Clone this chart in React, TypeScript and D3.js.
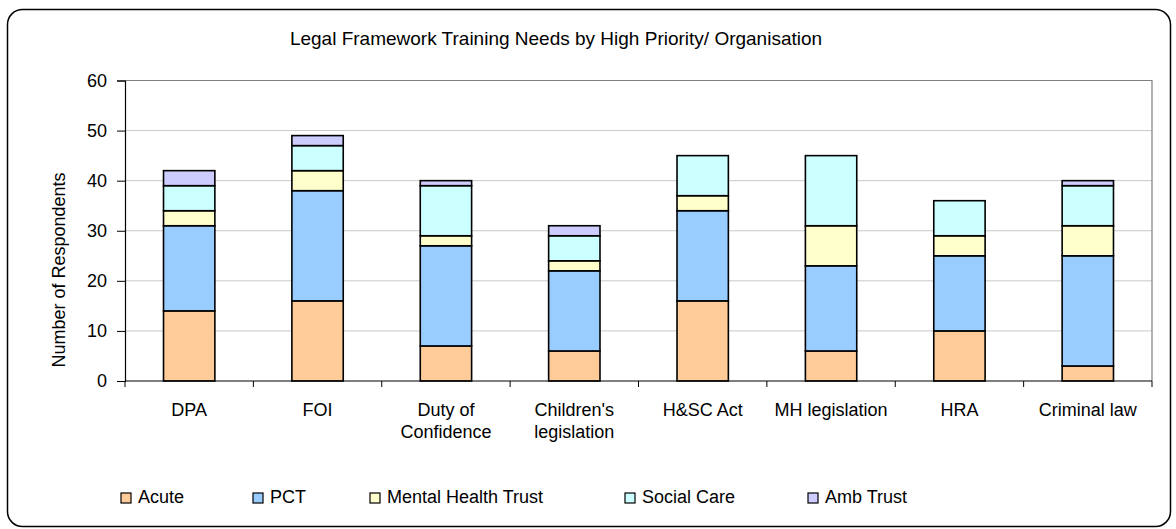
import React, { useEffect, useRef } from "react";
import * as d3 from "d3";

// chart values
const categories = ["DPA", "FOI", "Duty of Confidence", "Children's legislation", "H&SC Act", "MH legislation", "HRA", "Criminal law"];
const categoryLines = [["DPA"], ["FOI"], ["Duty of", "Confidence"], ["Children's", "legislation"], ["H&SC Act"], ["MH legislation"], ["HRA"], ["Criminal law"]];
const seriesNames = ["Acute", "PCT", "Mental Health Trust", "Social Care", "Amb Trust"];
const acute = [14, 16, 7, 6, 16, 6, 10, 3];
const pct = [17, 22, 20, 16, 18, 17, 15, 22];
const mentalHealthTrust = [3, 4, 2, 2, 3, 8, 4, 6];
const socialCare = [5, 5, 10, 5, 8, 14, 7, 8];
const ambTrust = [3, 2, 1, 2, 0, 0, 0, 1];
const yTicks = [0, 10, 20, 30, 40, 50, 60];

const colors = ["#FFCC99", "#99CCFF", "#FFFFCC", "#CCFFFF", "#CCCCFF"];
// legend entry x positions (Excel spaces them unevenly)
const legendX = [121, 253, 370, 625, 808];

const W = 1176;
const H = 529;
const FONT = "Arial, 'Liberation Sans', sans-serif";

const renderChart = (svg: d3.Selection<SVGSVGElement, unknown, null, undefined>) => {
    svg.selectAll("*").remove();

    const margin = { top: 80.5, left: 125, right: W - 1152, bottom: H - 381 };
    const innerW = W - margin.left - margin.right;
    const innerH = H - margin.top - margin.bottom;

    // outer frame
    svg.append("rect")
        .attr("x", 7.5).attr("y", 9.5)
        .attr("width", 1163).attr("height", 517)
        .attr("rx", 15).attr("ry", 15)
        .attr("fill", "white")
        .attr("stroke", "black")
        .attr("stroke-width", 1.5);

    svg.append("text")
        .attr("x", 556).attr("y", 45)
        .attr("text-anchor", "middle")
        .attr("font-family", FONT)
        .attr("font-size", 19)
        .text("Legal Framework Training Needs by High Priority/ Organisation");

    const table = categories.map((c, i) => ({
        category: c,
        Acute: acute[i],
        PCT: pct[i],
        "Mental Health Trust": mentalHealthTrust[i],
        "Social Care": socialCare[i],
        "Amb Trust": ambTrust[i]
    }));
    const stacked = d3.stack<any>().keys(seriesNames)(table);

    const x = d3.scaleBand().domain(categories).range([0, innerW]).paddingInner(0.6).paddingOuter(0.3);
    const y = d3.scaleLinear().domain([0, 60]).range([innerH, 0]);
    const step = x.step();

    const g = svg.append("g").attr("transform", `translate(${margin.left},${margin.top})`);

    // gridlines
    g.selectAll(".grid").data(yTicks.filter(t => t > 0 && t < 60)).enter().append("line")
        .attr("x1", 0).attr("x2", innerW)
        .attr("y1", d => y(d)).attr("y2", d => y(d))
        .attr("stroke", "#c8c8c8").attr("stroke-width", 1);
    // plot area border (top / right)
    g.append("path")
        .attr("d", `M0,${y(60)}H${innerW}V${innerH}`)
        .attr("fill", "none").attr("stroke", "#808080").attr("stroke-width", 1.2);

    // bars
    g.selectAll(".series").data(stacked).enter().append("g")
        .attr("fill", (_, i) => colors[i])
        .selectAll("rect").data(d => d.filter(s => s[1] - s[0] > 0)).enter().append("rect")
        .attr("x", d => x(d.data.category) as number)
        .attr("y", d => y(d[1]))
        .attr("width", x.bandwidth())
        .attr("height", d => y(d[0]) - y(d[1]))
        .attr("stroke", "black")
        .attr("stroke-width", 1.6);

    // y axis
    const yAxis = g.append("g").call(d3.axisLeft(y).tickValues(yTicks).tickSize(8).tickPadding(10));
    yAxis.select(".domain").attr("stroke", "black").attr("stroke-width", 1.2);
    yAxis.selectAll(".tick line").attr("stroke", "black");
    yAxis.selectAll("text").attr("font-family", FONT).attr("font-size", 18).attr("fill", "black");

    // x axis line + ticks between categories
    g.append("line")
        .attr("x1", 0).attr("x2", innerW).attr("y1", innerH).attr("y2", innerH)
        .attr("stroke", "black").attr("stroke-width", 1.2);
    g.selectAll(".xtick").data(d3.range(categories.length + 1)).enter().append("line")
        .attr("x1", i => i * step).attr("x2", i => i * step)
        .attr("y1", innerH).attr("y2", innerH + 6)
        .attr("stroke", "black");

    const labels = g.selectAll(".xlabel").data(categories).enter().append("text")
        .attr("text-anchor", "middle")
        .attr("font-family", FONT)
        .attr("font-size", 18)
        .attr("transform", d => `translate(${(x(d) as number) + x.bandwidth() / 2},${innerH + 35})`);
    labels.selectAll("tspan").data((_, i) => categoryLines[i]).enter().append("tspan")
        .attr("x", 0)
        .attr("dy", (_, j) => (j === 0 ? 0 : 21.7))
        .text(d => d);

    // y axis title
    svg.append("text")
        .attr("transform", "translate(65,270) rotate(-90)")
        .attr("text-anchor", "middle")
        .attr("font-family", FONT)
        .attr("font-size", 18)
        .text("Number of Respondents");

    // legend
    const legend = svg.selectAll(".legend").data(seriesNames).enter().append("g")
        .attr("transform", (_, i) => `translate(${legendX[i]},493)`);
    legend.append("rect")
        .attr("width", 10).attr("height", 10)
        .attr("fill", (_, i) => colors[i])
        .attr("stroke", "black").attr("stroke-width", 1.2);
    legend.append("text")
        .attr("x", 17).attr("y", 10)
        .attr("font-family", FONT)
        .attr("font-size", 18)
        .text(d => d);
};

const App = () => {
    const svgRef = useRef<SVGSVGElement>(null);

    useEffect(() => {
        if (svgRef.current) {
            d3.select(svgRef.current).call(renderChart);
        }
    }, []);

    return (
        <svg ref={svgRef} width={W} height={H}
            style={{ position: "absolute", left: 0, top: 0, background: "white" }} />
    );
};

export default App;
